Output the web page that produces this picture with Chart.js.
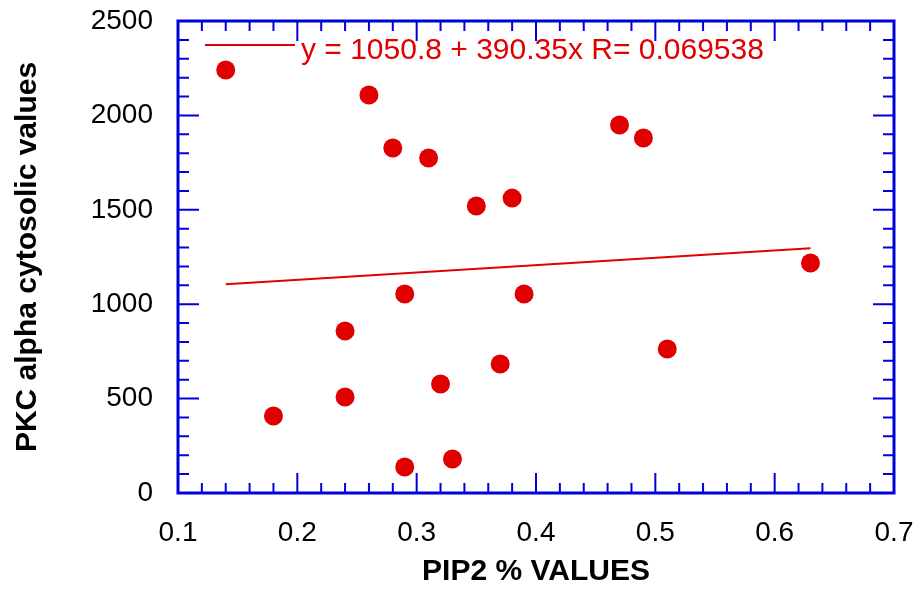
<!DOCTYPE html>
<html>
<head>
<meta charset="utf-8">
<script src="https://cdn.jsdelivr.net/npm/chart.js@4"></script>
<style>
  html, body { margin: 0; padding: 0; background: #fff; }
  #wrap { width: 921px; height: 592px; }
</style>
</head>
<body>
<div id="wrap"><canvas id="pkcChart" width="921" height="592"></canvas></div>
<script>
// PIP2 % vs PKC alpha cytosolic values
const pip2 = [0.14, 0.26, 0.28, 0.31, 0.35, 0.38, 0.47, 0.49, 0.63, 0.29, 0.39, 0.24, 0.51, 0.37, 0.32, 0.24, 0.18, 0.29, 0.33];
const pkc = [2240, 2108, 1827, 1774, 1520, 1562, 1949, 1880, 1218, 1054, 1054, 858, 763, 683, 577, 508, 408, 138, 180];

// fitted line endpoints (y = 1050.8 + 390.35x)
const fitX = [0.14, 0.63];
const fitY = [1105.4, 1296.7];
const fitLabel = 'y = 1050.8 + 390.35x R= 0.069538';

const xMajor = [0.1, 0.2, 0.3, 0.4, 0.5, 0.6, 0.7];
const xMinor = [0.12, 0.14, 0.16, 0.18, 0.22, 0.24, 0.26, 0.28, 0.32, 0.34, 0.36, 0.38,
                0.42, 0.44, 0.46, 0.48, 0.52, 0.54, 0.56, 0.58, 0.62, 0.64, 0.66, 0.68];
const yMajor = [0, 500, 1000, 1500, 2000, 2500];
const yMinor = [100, 200, 300, 400, 600, 700, 800, 900, 1100, 1200, 1300, 1400,
                1600, 1700, 1800, 1900, 2100, 2200, 2300, 2400];

const RED = '#e00000';
const BLUE = '#0000dd';
const FONT = '"Liberation Sans", Arial, sans-serif';

// blue box with inward ticks on all four sides, plus the legend line
const frame = {
    id: 'frame',
    afterDraw(chart) {
        const c = chart.ctx, a = chart.chartArea;
        const xs = chart.scales.x, ys = chart.scales.y;
        c.save();
        c.strokeStyle = BLUE;
        c.lineWidth = 2;
        c.beginPath();
        const tick = (x1, y1, x2, y2) => { c.moveTo(x1, y1); c.lineTo(x2, y2); };
        xMajor.forEach(v => {
            const p = xs.getPixelForValue(v);
            tick(p, a.bottom, p, a.bottom - 20);
            tick(p, a.top, p, a.top + 20);
        });
        xMinor.forEach(v => {
            const p = xs.getPixelForValue(v);
            tick(p, a.bottom, p, a.bottom - 10);
            tick(p, a.top, p, a.top + 10);
        });
        yMajor.forEach(v => {
            const p = ys.getPixelForValue(v);
            tick(a.left, p, a.left + 21, p);
            tick(a.right, p, a.right - 21, p);
        });
        yMinor.forEach(v => {
            const p = ys.getPixelForValue(v);
            tick(a.left, p, a.left + 11, p);
            tick(a.right, p, a.right - 11, p);
        });
        c.stroke();
        c.lineWidth = 3;
        c.strokeRect(a.left, a.top, a.right - a.left, a.bottom - a.top);

        // legend
        c.strokeStyle = RED;
        c.lineWidth = 2;
        c.beginPath();
        c.moveTo(205, 45);
        c.lineTo(295, 45);
        c.stroke();
        c.fillStyle = RED;
        c.font = '30px ' + FONT;
        c.textBaseline = 'alphabetic';
        c.fillText(fitLabel, 301, 59);
        c.restore();
    }
};

new Chart(document.getElementById('pkcChart'), {
    type: 'scatter',
    data: {
        datasets: [
            {
                label: 'data',
                data: pip2.map((x, i) => ({ x: x, y: pkc[i] })),
                backgroundColor: RED,
                borderColor: RED,
                borderWidth: 0,
                pointRadius: 9.5,
                pointHoverRadius: 9.5
            },
            {
                label: 'fit',
                type: 'line',
                data: fitX.map((x, i) => ({ x: x, y: fitY[i] })),
                borderColor: RED,
                borderWidth: 2,
                pointRadius: 0,
                fill: false
            }
        ]
    },
    options: {
        responsive: false,
        animation: false,
        layout: { padding: { top: 21, right: 27, left: 0, bottom: 0 } },
        plugins: {
            legend: { display: false },
            tooltip: { enabled: false }
        },
        scales: {
            x: {
                type: 'linear',
                min: 0.1,
                max: 0.7,
                grid: { display: false },
                border: { display: false },
                ticks: {
                    stepSize: 0.1,
                    color: '#000',
                    padding: 15,
                    maxRotation: 0,
                    font: { family: FONT, size: 28 },
                    callback: v => v.toFixed(1)
                },
                title: {
                    display: true,
                    text: 'PIP2 % VALUES',
                    color: '#000',
                    padding: { top: 4, bottom: 2 },
                    font: { family: FONT, size: 30, weight: 'bold' }
                },
                afterFit: s => {
                    s.height = 99;
                    s.paddingLeft = 0;
                    s.paddingRight = 0;
                }
            },
            y: {
                min: 0,
                max: 2500,
                grid: { display: false },
                border: { display: false },
                ticks: {
                    stepSize: 500,
                    color: '#000',
                    padding: 17,
                    font: { family: FONT, size: 28 },
                    callback: v => String(v)
                },
                title: {
                    display: true,
                    text: 'PKC alpha cytosolic values',
                    color: '#000',
                    padding: { top: 10, bottom: 10 },
                    font: { family: FONT, size: 30, weight: 'bold' }
                },
                afterFit: s => {
                    s.width = 178;
                    s.paddingTop = 0;
                    s.paddingBottom = 0;
                }
            }
        }
    },
    plugins: [frame]
});
</script>
</body>
</html>
